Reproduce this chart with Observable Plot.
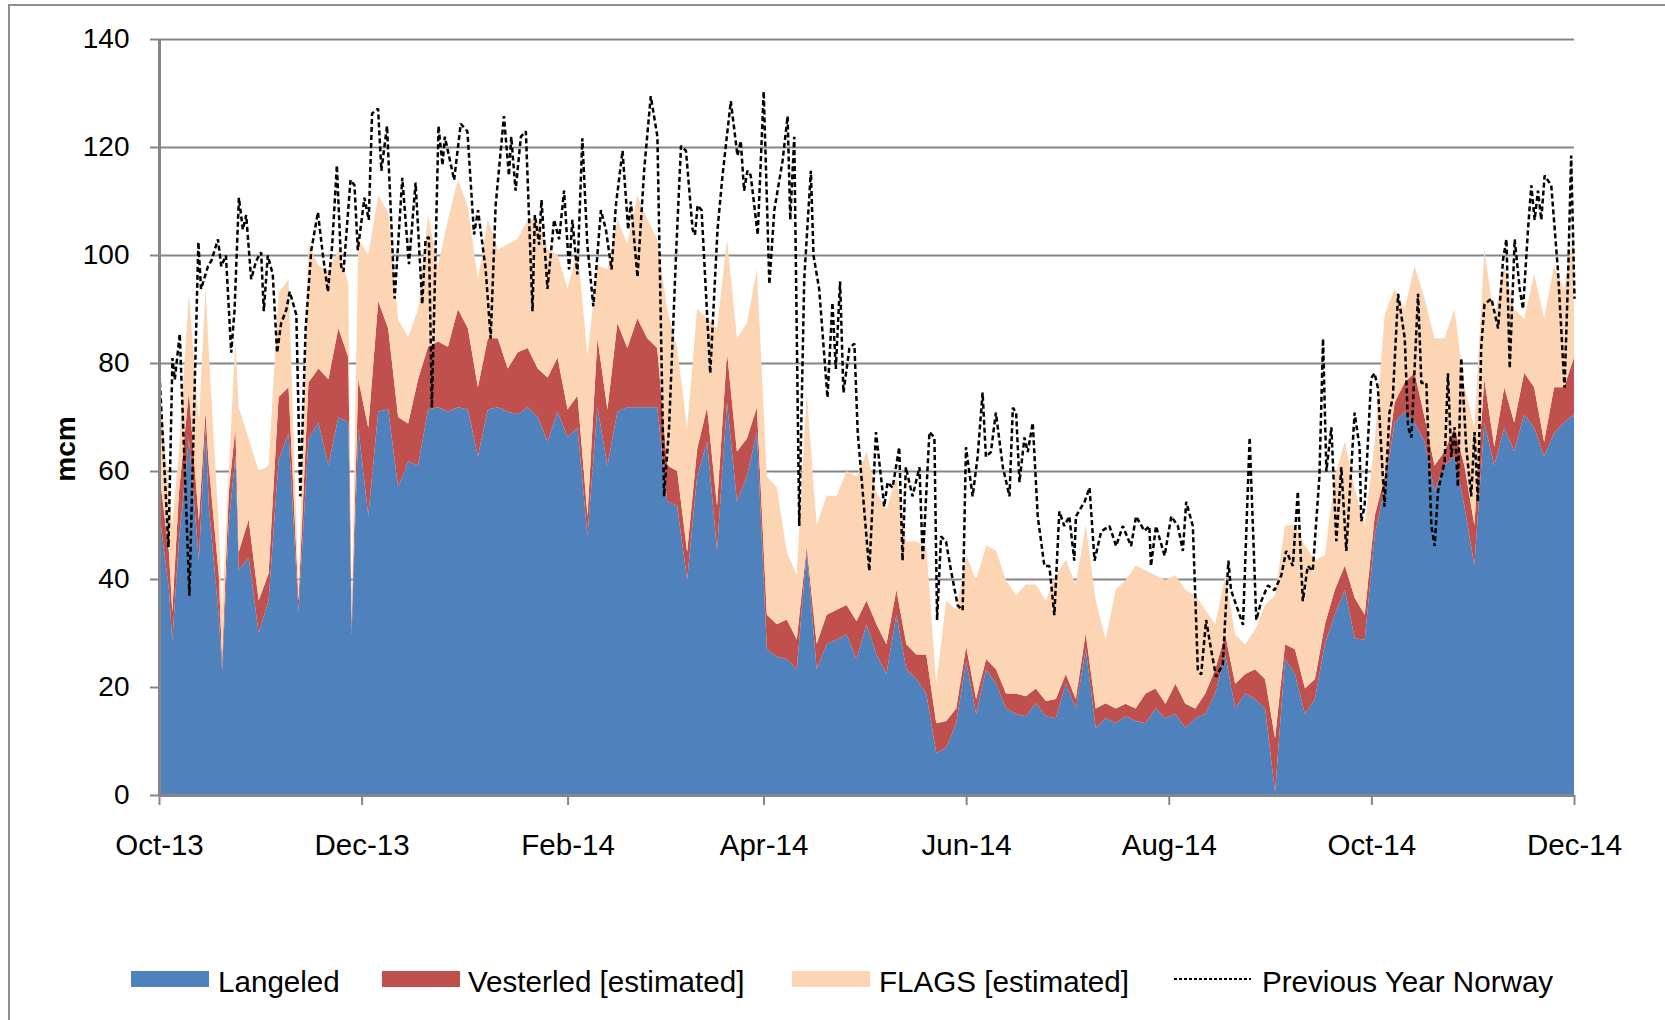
<!DOCTYPE html>
<html>
<head>
<meta charset="utf-8">
<script src="https://cdn.jsdelivr.net/npm/d3@7"></script>
<script src="https://cdn.jsdelivr.net/npm/@observablehq/plot@0.6"></script>
<style>
  html, body { margin: 0; padding: 0; background: #fff; }
  body { font-family: "Liberation Sans", Arial, sans-serif; }
  #wrap { position: relative; width: 1665px; height: 1020px; overflow: hidden; }
  #frame { position: absolute; left: 8px; top: 4px; width: 1700px; height: 1100px;
           border-left: 2px solid #8e8e8e; border-top: 2px solid #8e8e8e; box-sizing: border-box; pointer-events: none; }
  #wrap svg { display: block; }
</style>
</head>
<body>
<div id="wrap"><div id="frame"></div></div>
<script>
// ---------- DATA ----------
const seriesNames = ["Langeled", "Vesterled [estimated]", "FLAGS [estimated]"];
const lineName = "Previous Year Norway";
const seriesColors = ["#4F81BD", "#C0504D", "#FCD5B5"];
const startDate = "2013-10-01";
const tickDates = ["2013-10-01", "2013-12-01", "2014-02-01", "2014-04-01", "2014-06-01", "2014-08-01", "2014-10-01", "2014-12-01"];
const tickLabels = ["Oct-13", "Dec-13", "Feb-14", "Apr-14", "Jun-14", "Aug-14", "Oct-14", "Dec-14"];
const yTicks = [0, 20, 40, 60, 80, 100, 120, 140];
const yLabel = "mcm";

// days since 1 Oct 2013 for the stacked areas
const areaDays = [0,3,4,6,9,12,14,15,18,19,21,23,24,27,30,33,36,39,42,45,48,51,54,57,58,60,63,66,69,72,
  75,78,81,84,87,90,93,96,99,102,105,108,111,114,117,120,123,126,129,132,135,138,141,144,147,150,
  153,156,159,162,165,168,171,174,177,180,183,186,189,192,195,198,201,204,207,210,213,216,219,222,
  225,228,231,234,237,240,243,246,249,252,255,258,261,264,267,270,273,276,279,282,285,288,291,294,
  297,300,303,306,309,312,315,318,321,324,327,330,333,336,339,342,345,348,351,354,357,360,363,366,
  369,372,375,378,381,384,387,390,393,396,399,402,405,408,411,414,417,420,423,426];

const langeled = [52.6,38,28.5,47,66,43.5,68,53.5,33,23,50,63,41.6,44,30,36,62,67,34,66,69,61,70,69,30,68,51.7,71,71.4,57,
  61.8,61,71.4,71.8,71,71.8,71.4,62.7,71.4,71.8,71,70.5,71.8,70,65.4,71,66.3,68,48,71.8,61,71,71.8,71.8,71.8,71.8,
  54.4,53.5,39.8,59,65.4,45.3,72.7,54.4,59,67.3,27,25.6,25.2,23.3,45,23.3,27.9,28.8,29.7,25.2,31.6,26,22.4,33.4,
  23.3,21.5,18.8,7.8,8.7,13.3,24.7,15,23.3,20.6,16,15,14.6,17,14.6,14.2,20.6,16,27,12.4,14.2,13.3,14.6,13.7,
  13.3,16,14.2,15,12.4,14.2,15,18.8,26,16,18.8,17.8,16,0.5,25.2,22.4,15,17.8,28,33.4,38,29,28.8,48,
  57,69,71,69,65.4,56.3,61,62.7,53.5,42.5,69,61,68,63.6,70.5,68,62.7,67,69,70.5];

const vesterled = [7.4,7,5.5,9,8.6,7.3,3,7.5,7.7,2,6,5,3.4,7,6,5,11.7,8.5,2,10.4,10,16,16.5,12,2,9,16.3,20.5,15,13,
  7,16,11.6,12.2,12,18.2,15,12.8,13.2,12.8,8,11.5,11,9,11.9,10,5.1,6,3.7,12.8,10.4,16.4,11,16.5,12.8,11,
  6.6,6.5,5.2,5,6.4,8.2,9.3,9.2,7,4.5,6.4,6,7.3,5.5,1,4.7,5.5,5.5,5.5,7,4.4,5.6,5.5,4.6,
  4.6,4.5,7.2,5.5,5,2.7,2.8,2.8,1.9,2.7,2.8,3.8,3.7,2.7,2.8,3.6,1.8,1.8,3,3.6,2.8,2.7,2.3,2.3,
  5.5,3.7,2.7,5.6,4.5,1.8,3.8,4.5,3.7,4.6,3.6,5.5,5.5,10,2.7,4.6,4.7,3.7,3.6,4.6,4.5,7.5,4.6,3.7,
  2,3.7,5.4,9.2,4.6,4.7,2.6,5.3,7.5,7.5,8,3.5,7.5,5.4,7.7,7.5,2.7,8.5,6.5,10.5];

const flags = [17,11,16,8,18.3,18.2,23,21,9.3,9,4,16,26.8,15,24,20,19.3,20,2,25.6,19,20,14.5,13.7,1,26,32,19.5,21.5,18,
  16,13,24.5,14,23.6,24,22.5,20,22,16.4,23,21,23.8,27.6,23.7,19,22.4,27,29.8,13.4,26,19.2,19.2,22.7,22,20.2,
  29,22.8,23,26,16.5,33,21,21,21.4,25.6,25.6,25.4,12.5,11.9,28.6,22,22,21.1,24.8,26.8,27.6,24.4,25,21,
  19,21,20,7.3,22.3,18.3,17,22,21,22,21,18.2,20.7,19.3,18.6,22.9,21.1,21.2,20,20,11.8,22,22.9,26.5,
  22.8,21,22.9,20.1,21.1,21,15.5,8.3,11,9.1,5.5,7.3,13.7,26.5,22,23,26.5,22,12.8,21,23,20.2,16.6,13.7,
  30,21,13.6,19.8,22,23.6,21,22,14.5,18,24,23.8,22.5,21,10,21,22.9,22.5,18.3,23.8];

// previous-year line: days since 1 Oct 2013 and values (mcm)
const prevDays = [0,2.7,3.9,4.6,6.1,9,11.7,12.5,14.6,15.6,17.6,18.6,20,21.6,22.6,23.9,25.1,26.1,27.6,29.1,30.6,31.4,32.6,
  34.1,35.4,36.6,38.2,39.2,41.2,42.4,44,45.7,47.7,49.2,50.7,52,53.4,54.7,55.4,57.5,58.7,59.7,61.7,63,64,65.8,66.8,68.5,
  70.8,73.1,75.1,77.1,79.1,80.1,81.1,82,84,85.2,85.9,88.7,90.7,92.7,94.7,95.9,98.2,99.7,101.2,103.7,105.2,105.9,107.2,
  108.8,110.3,112.3,113,114.3,115,116.8,118.8,120.3,121.8,123.3,124.3,125.8,127.3,128.8,130.6,132.9,134.4,136.1,137.4,
  139.4,141.1,141.9,143.9,145.9,147.9,149.9,151.9,153.4,155.5,157,158.5,160.5,161.2,162,163.2,165.8,168,169.5,172,174,
  175,176,177,178,180.1,181.9,183.6,185.1,187.6,189.1,189.9,191.1,192.6,194.1,196.1,196.9,198.6,201.1,202.6,203.6,
  204.9,205.9,207.7,209.2,210.2,213.7,215.7,218.2,219.2,220.7,222.7,223.7,224.7,226.7,228.8,229.8,231.8,233.3,234.1,
  235.3,236.8,238.3,240.3,241.8,242.8,244.8,246.3,247.8,248.8,250.3,251.8,253.9,255.9,256.9,257.9,258.9,260.4,261.4,
  262.9,264.4,266.4,267.9,269.4,270.9,272.4,273.9,275.4,275.9,278.5,280,281.5,283.5,286,288,290,292.5,294,296.5,298,
  298.5,300,302.6,304.6,306.6,308.1,309.1,311.1,312.6,313.6,315.1,316.6,318.1,320.1,321.8,322.6,324.7,326.2,328.2,
  330.2,331.7,333.7,335.7,337.7,339.2,341.2,342.7,344.2,345.7,347.2,349.2,350.3,351.3,352.8,354.3,355.8,357.3,359.8,
  361.3,361.8,362.8,364.8,365.8,366.8,368.8,370.3,371.3,372.9,374.9,375.9,376.9,378.9,379.9,381.4,382.9,383.9,384.9,
  386.9,387.9,388.9,389.9,390.9,391.9,393.4,394.9,395.9,396.9,397.9,398.9,401,403,404.5,405.5,406.5,408,409.5,410.5,
  412,413,414,415,416,417,419,421,423,424,425,426];

const prevYear = [78,46,81,77,85.5,37,102.5,93.8,98,99,103,98,100,82,90,110.7,104.8,107.5,95.6,99,100.6,89.7,100,
  96.5,82,87.4,90,93.3,89,55.4,86.5,101,108,100,93.3,102,116.7,98,97,114,113,101,110.7,106.6,126.3,127.2,115.7,124,
  92,114.4,98.4,113.5,91,103,103.4,71.8,124,116.7,122,114,124.4,123,103.9,108.4,97.4,84.6,109.3,125.8,114.8,122,112,
  122,123,89.7,107.5,102,110.3,93.8,106.6,103,112,97.4,106.6,96.5,121.7,102,90.6,108.4,104.8,97.4,109.3,
  119.4,104.8,110,96,115.7,129.5,122,55.4,68,100,120.3,119.4,104.8,103.8,109.3,108.4,78.2,104.8,114.8,128.6,118.5,
  121.2,112,115.7,114.8,103.8,130.4,94.7,108.4,117.6,125.8,106.6,122,49.9,95.6,115.7,100,93.8,73.7,91.3,79,
  95.2,74.6,82.8,83.7,67.3,41.6,67.3,53.5,58,57,64.5,43.5,60.8,55.4,60.8,43.5,67.3,66.3,32.5,
  48,47,41.6,35.2,34.3,64.5,55.4,62.7,74.6,62.7,63.6,70.9,60.8,55.4,71.8,70.9,58,66.3,63.6,
  69,51.7,42.5,42.5,33.4,52.6,49.9,51.7,43.5,51.7,54.4,57,43.5,48.9,49.9,46.2,49.9,46.2,51.7,49,49.9,
  42.5,49.9,44.4,51.7,49.9,45.3,54.4,49.9,23.3,22.4,32.5,27,22,24.2,43.5,38,34.3,31.6,66.3,
  32.5,36,38.9,38,40.7,45.3,42.5,56.3,36,42.5,41.6,59,84.6,60,68.2,47.1,60.8,45.3,70.9,
  64.5,50.8,53.5,77.3,78.2,75.5,53.5,70.9,73.7,92.9,84.6,68.2,66.3,92.9,76.4,76.4,49.9,46.2,56.3,
  61.8,78.2,62.7,68.2,57.2,81,64.5,55.4,67.3,54.4,82.8,91,92,86.5,99.3,103,79.1,103,93.8,90.1,
  104.8,113,106.6,112,106.6,114.8,113,97.4,75.5,94.7,118.5,92];

// ---------- BUILD ----------
const DAY = 864e5;
const t0 = Date.parse(startDate + "T00:00:00Z");
const toDate = d => new Date(t0 + d * DAY);
const seriesValues = [langeled, vesterled, flags];

const rows = [];
areaDays.forEach((d, i) => {
  seriesNames.forEach((s, k) => rows.push({date: toDate(d), series: s, value: seriesValues[k][i]}));
});
const lineRows = prevDays.map((d, i) => ({date: toDate(d), value: prevYear[i]}));

const tickDateObjs = tickDates.map(s => new Date(s + "T00:00:00Z"));
const labelMap = new Map(tickDateObjs.map((d, i) => [+d, tickLabels[i]]));
const FONT = "'Liberation Sans', Arial, Helvetica, sans-serif";
const GRAY = "#868686";

const chart = Plot.plot({
  width: 1665,
  height: 900,
  marginLeft: 159,
  marginRight: 91,
  marginTop: 39,
  marginBottom: 105,
  style: {fontFamily: FONT, fontSize: "28px", background: "transparent", color: "#000"},
  x: {type: "utc", domain: [tickDateObjs[0], tickDateObjs[tickDateObjs.length - 1]]},
  y: {domain: [0, 140]},
  color: {domain: seriesNames, range: seriesColors},
  marks: [
    Plot.gridY(yTicks.filter(v => v > 0), {stroke: GRAY, strokeOpacity: 1, strokeWidth: 2}),
    Plot.areaY(rows, {x: "date", y: "value", fill: "series", order: seriesNames}),
    Plot.line(lineRows, {x: "date", y: "value", stroke: "#000", strokeWidth: 2.5,
      strokeDasharray: "5,3", strokeLinecap: "butt", strokeLinejoin: "miter"}),
    Plot.ruleY([0], {stroke: GRAY, strokeWidth: 3}),
    Plot.ruleX([tickDateObjs[0]], {stroke: GRAY, strokeWidth: 3}),
    Plot.axisY({ticks: yTicks, tickSize: 9, tickPadding: 21, stroke: GRAY, strokeWidth: 2, fill: "#000",
      fontSize: 28, label: null, tickFormat: d => String(d)}),
    Plot.axisX({ticks: tickDateObjs, tickSize: 10, tickPadding: 29, stroke: GRAY, strokeWidth: 2, fill: "#000",
      fontSize: 29.5, label: null, tickFormat: d => labelMap.get(+d)})
  ]
});

// y-axis title
d3.select(chart).append("text")
  .attr("transform", "translate(65,449) rotate(-90)")
  .attr("text-anchor", "middle")
  .attr("dominant-baseline", "central")
  .attr("font-family", FONT)
  .attr("font-size", 28)
  .attr("font-weight", "bold")
  .attr("fill", "#000")
  .text(yLabel);

const wrap = document.getElementById("wrap");
wrap.appendChild(chart);

// legend below the chart
const legend = d3.create("svg").attr("width", 1665).attr("height", 120)
  .attr("font-family", FONT).attr("font-size", 29.6);
const legendItems = [
  {name: seriesNames[0], kind: "rect", color: seriesColors[0], x0: 131, tx: 218},
  {name: seriesNames[1], kind: "rect", color: seriesColors[1], x0: 382, tx: 468},
  {name: seriesNames[2], kind: "rect", color: seriesColors[2], x0: 792, tx: 879},
  {name: lineName, kind: "line", color: "#000", x0: 1174, tx: 1262}
];
legendItems.forEach(it => {
  if (it.kind === "rect") {
    legend.append("rect").attr("x", it.x0).attr("y", 71).attr("width", 78).attr("height", 16).attr("fill", it.color);
  } else {
    legend.append("line").attr("x1", it.x0).attr("x2", it.x0 + 77).attr("y1", 79).attr("y2", 79)
      .attr("stroke", it.color).attr("stroke-width", 2).attr("stroke-dasharray", "3,2");
  }
  legend.append("text").attr("x", it.tx).attr("y", 92).attr("fill", "#000").text(it.name);
});
wrap.appendChild(legend.node());
</script>
</body>
</html>
